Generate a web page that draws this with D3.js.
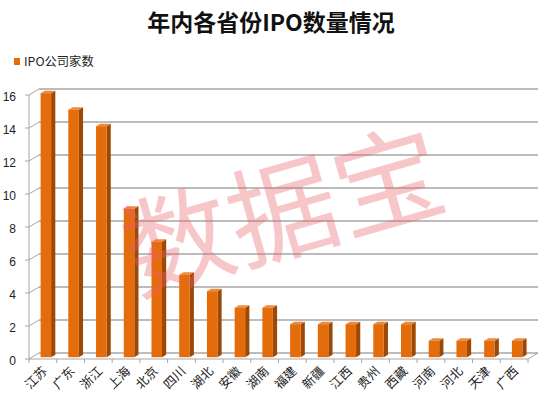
<!DOCTYPE html>
<html>
<head>
<meta charset="utf-8">
<script src="https://cdn.jsdelivr.net/npm/d3@7"></script>
<style>
  body { margin: 0; background: #fff; }
  svg { display: block; }
</style>
</head>
<body>
<svg width="551" height="416"></svg>
<script>
// 数据
var provinces = ["江苏","广东","浙江","上海","北京","四川","湖北","安徽","湖南","福建","新疆","江西","贵州","西藏","河南","河北","天津","广西"];
var ipoCounts = [16, 15, 14, 9, 7, 5, 4, 3, 3, 2, 2, 2, 2, 2, 1, 1, 1, 1];
var yTicks = [0, 2, 4, 6, 8, 10, 12, 14, 16];
var seriesName = "IPO公司家数";
var title = "年内各省份IPO数量情况";

var svg = d3.select("svg");

// 3D的奥行き
var depthX = 10, depthY = -6;

var x = d3.scaleBand().domain(provinces).range([29, 528]).padding(0);
var y = d3.scaleLinear().domain([0, 16]).range([359, 95]);

var grid = "#a6a6a6";

// 标题
svg.append("text")
  .attr("x", 271).attr("y", 31)
  .attr("text-anchor", "middle")
  .attr("font-family", "'Noto Sans CJK SC', sans-serif")
  .attr("font-size", 23).attr("font-weight", "bold")
  .attr("fill", "#111")
  .text(title);

// 图例
svg.append("rect").attr("x", 14).attr("y", 58).attr("width", 6).attr("height", 7).attr("fill", "#e46c0a");
svg.append("text")
  .attr("x", 24).attr("y", 66)
  .attr("font-family", "'Noto Sans CJK SC', sans-serif")
  .attr("font-size", 12.3).attr("fill", "#222")
  .text(seriesName);

var x0 = x.range()[0], x1 = x.range()[1];

// 背面网格线
svg.append("g").selectAll("line.grid")
  .data(yTicks.slice(1))
  .enter().append("line")
  .attr("x1", x0 + depthX).attr("x2", x1 + depthX)
  .attr("y1", function(d){ return y(d) + depthY; })
  .attr("y2", function(d){ return y(d) + depthY; })
  .attr("stroke", grid).attr("stroke-width", 1.3);

// 左墙斜线
svg.append("g").selectAll("line")
  .data(yTicks)
  .enter().append("line")
  .attr("x1", x0).attr("x2", x0 + depthX)
  .attr("y1", function(d){ return y(d); })
  .attr("y2", function(d){ return y(d) + depthY; })
  .attr("stroke", grid).attr("stroke-width", 1);

// 地板
svg.append("line")
  .attr("x1", x0 + depthX).attr("x2", x1 + depthX)
  .attr("y1", y(0) + depthY).attr("y2", y(0) + depthY)
  .attr("stroke", grid).attr("stroke-width", 1.3);
svg.append("line")
  .attr("x1", x1).attr("x2", x1 + depthX)
  .attr("y1", y(0)).attr("y2", y(0) + depthY)
  .attr("stroke", grid).attr("stroke-width", 1);

// 柱子（伪3D）
var bw = 10.5, t0 = 0.3, t1 = 0.72;
var bars = svg.append("g").selectAll("g.bar")
  .data(provinces.map(function(p, i){ return {name: p, v: ipoCounts[i]}; }))
  .enter().append("g").attr("class", "bar");

bars.each(function(d){
  var g = d3.select(this);
  var cx = x(d.name) + x.bandwidth() / 2;
  var fx = cx - bw / 2 + depthX * t0;
  var fyTop = y(d.v) + depthY * t0;
  var fyBot = y(0) + depthY * t0;
  var ox = depthX * (t1 - t0), oy = depthY * (t1 - t0);
  // 侧面
  g.append("path")
    .attr("d", "M" + (fx + bw) + "," + fyTop + " L" + (fx + bw + ox) + "," + (fyTop + oy) +
      " L" + (fx + bw + ox) + "," + (fyBot + oy) + " L" + (fx + bw) + "," + fyBot + "Z")
    .attr("fill", "#9c4806");
  // 顶面
  g.append("path")
    .attr("d", "M" + fx + "," + fyTop + " L" + (fx + ox) + "," + (fyTop + oy) +
      " L" + (fx + bw + ox) + "," + (fyTop + oy) + " L" + (fx + bw) + "," + fyTop + "Z")
    .attr("fill", "#f0883a");
  // 正面
  g.append("rect")
    .attr("x", fx).attr("y", fyTop)
    .attr("width", bw).attr("height", fyBot - fyTop)
    .attr("fill", "#e46c0a");
});

// Y轴
svg.append("line")
  .attr("x1", x0).attr("x2", x0).attr("y1", y(16)).attr("y2", y(0))
  .attr("stroke", grid);
var yt = svg.append("g").selectAll("g")
  .data(yTicks).enter().append("g");
yt.append("line")
  .attr("x1", x0 - 4).attr("x2", x0)
  .attr("y1", function(d){ return y(d); }).attr("y2", function(d){ return y(d); })
  .attr("stroke", grid);
yt.append("text")
  .attr("x", 16).attr("y", function(d){ return y(d) + 5.5; })
  .attr("text-anchor", "end")
  .attr("font-family", "'Liberation Sans', Arial, sans-serif")
  .attr("font-size", 12).attr("fill", "#222")
  .text(function(d){ return d; });

// X轴
svg.append("line")
  .attr("x1", x0).attr("x2", x1).attr("y1", y(0)).attr("y2", y(0))
  .attr("stroke", grid);
svg.append("g").selectAll("line")
  .data(provinces.concat(["_end"]))
  .enter().append("line")
  .attr("x1", function(d, i){ return x0 + i * x.step(); })
  .attr("x2", function(d, i){ return x0 + i * x.step(); })
  .attr("y1", y(0)).attr("y2", y(0) + 4)
  .attr("stroke", grid);

svg.append("g").selectAll("text")
  .data(provinces)
  .enter().append("text")
  .attr("transform", function(d){
    var cx = x(d) + x.bandwidth() / 2 + 5;
    return "translate(" + cx + "," + (y(0) + 13) + ") rotate(-45)";
  })
  .attr("text-anchor", "end")
  .attr("font-family", "'Noto Sans CJK SC', sans-serif")
  .attr("font-size", 12.5).attr("fill", "#222")
  .text(function(d){ return d; });

// 水印
svg.append("text")
  .attr("transform", "translate(294,250) rotate(-16)")
  .attr("text-anchor", "middle")
  .attr("font-family", "'Noto Sans CJK SC', sans-serif")
  .attr("font-size", 109)
  .attr("fill", "rgba(232,96,106,0.36)")
  .text("数据宝");
</script>
</body>
</html>
